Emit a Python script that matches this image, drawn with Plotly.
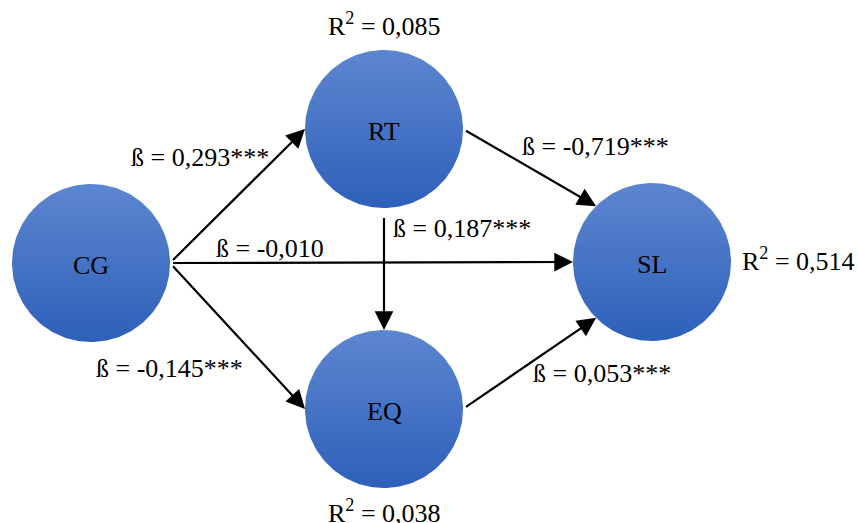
import numpy as np
import plotly.graph_objects as go

# ---- data ----
nodes = ["CG", "RT", "EQ", "SL"]
r2_nodes = ["RT", "EQ", "SL"]
r2_values = [0.085, 0.038, 0.514]
path_from = ["CG", "CG", "CG", "RT", "RT", "EQ"]
path_to = ["RT", "EQ", "SL", "SL", "EQ", "SL"]
path_beta = [0.293, -0.145, -0.010, -0.719, 0.187, 0.053]
path_sig = ["***", "***", "", "***", "***", "***"]

# ---- layout (pixel coordinates) ----
centers = {"CG": (91, 263), "RT": (384, 129), "EQ": (384, 409), "SL": (652, 262)}
R = 79
anchors = {  # (from-anchor angle, to-anchor angle) in degrees, screen coords (y down)
    ("CG", "RT"): (0, 180),
    ("CG", "EQ"): (0, 180),
    ("CG", "SL"): (0, 180),
    ("RT", "SL"): (0, 225),
    ("RT", "EQ"): (90, 270),
    ("EQ", "SL"): (0, 135),
}
beta_label_pos = {
    ("CG", "RT"): (200, 157),
    ("CG", "EQ"): (169, 368),
    ("CG", "SL"): (270, 248),
    ("RT", "SL"): (595, 146),
    ("RT", "EQ"): (462, 228),
    ("EQ", "SL"): (602, 373),
}
r2_label_pos = {"RT": (384, 24), "EQ": (384, 511), "SL": (798, 259)}

FONT = "Liberation Serif, Times New Roman, serif"
FS = 26


def pt(node, ang):
    cx, cy = centers[node]
    a = np.deg2rad(ang)
    return cx + R * np.cos(a), cy + R * np.sin(a)


def fmt(v):
    return f"{v:.3f}".replace(".", ",")


fig = go.Figure()

theta = np.linspace(0, 2 * np.pi, 181)
for n in nodes:
    cx, cy = centers[n]
    fig.add_trace(go.Scatter(
        x=cx + R * np.cos(theta), y=cy + R * np.sin(theta),
        mode="lines", fill="toself", line=dict(width=0, color="rgba(0,0,0,0)"),
        fillgradient=dict(type="vertical", start=cy - R, stop=cy + R,
                          colorscale=[[0, "#5d86d0"], [1, "#2e60b9"]]),
        hoverinfo="skip", showlegend=False))
    fig.add_annotation(x=cx, y=cy + 2, text=n, showarrow=False,
                       font=dict(family=FONT, size=FS, color="black"))

for f, t, b, s in zip(path_from, path_to, path_beta, path_sig):
    a0, a1 = anchors[(f, t)]
    x0, y0 = pt(f, a0)
    x1, y1 = pt(t, a1)
    fig.add_annotation(x=x1, y=y1, ax=x0, ay=y0, xref="x", yref="y", axref="x", ayref="y",
                       showarrow=True, arrowhead=2, arrowsize=1.7, arrowwidth=2.2,
                       arrowcolor="black", text=" ", standoff=0)
    lx, ly = beta_label_pos[(f, t)]
    fig.add_annotation(x=lx, y=ly, text=f"ß = {fmt(b)}{s}", showarrow=False,
                       font=dict(family=FONT, size=FS, color="black"))

for n, v in zip(r2_nodes, r2_values):
    lx, ly = r2_label_pos[n]
    fig.add_annotation(x=lx, y=ly, text=f"R<sup>2</sup> = {fmt(v)}", showarrow=False,
                       font=dict(family=FONT, size=FS, color="black"))

fig.update_xaxes(range=[0, 858], visible=False, fixedrange=True)
fig.update_yaxes(range=[523, 0], visible=False, fixedrange=True)
fig.update_layout(width=858, height=523, margin=dict(l=0, r=0, t=0, b=0),
                  plot_bgcolor="white", paper_bgcolor="white")

fig.write_html("out.html", config={"displayModeBar": False},
               post_script="document.body.style.margin='0';document.body.style.overflow='hidden';")
